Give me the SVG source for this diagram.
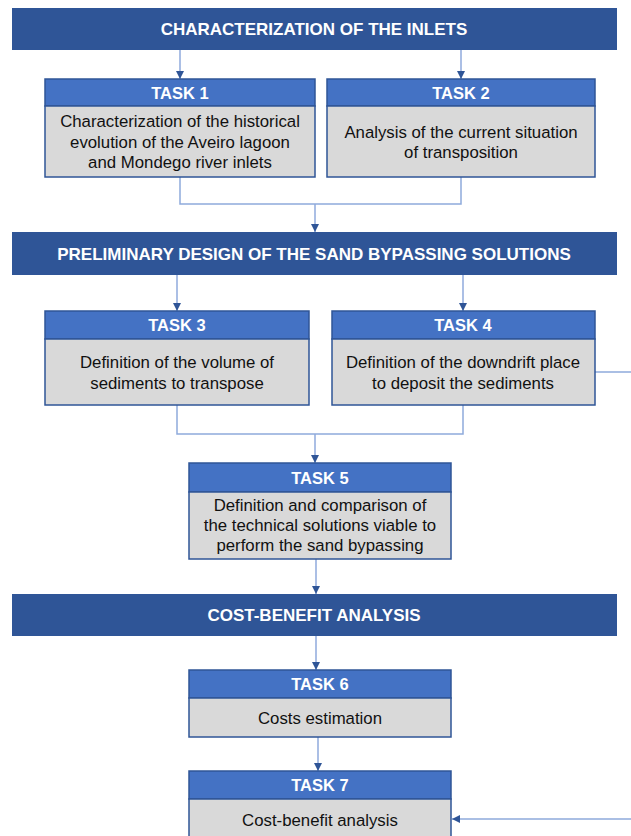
<svg xmlns="http://www.w3.org/2000/svg" width="631" height="836" viewBox="0 0 631 836">
<defs>
<style>
.band{fill:#2F5597;}
.band-t{font-family:"Liberation Sans",Arial,sans-serif;font-weight:bold;font-size:17px;fill:#fff;text-anchor:middle;}
.th{fill:#4472C4;stroke:#2F5597;stroke-width:1.5;}
.tb{fill:#D9D9D9;stroke:#2F5597;stroke-width:1.5;}
.th-t{font-family:"Liberation Sans",Arial,sans-serif;font-weight:bold;font-size:16.5px;fill:#fff;text-anchor:middle;}
.tb-t{font-family:"Liberation Sans",Arial,sans-serif;font-size:16.8px;fill:#111;text-anchor:middle;}
.conn{fill:none;stroke:#8FAADC;stroke-width:1.5;}
</style>
<marker id="arr" viewBox="0 0 10 10" refX="10" refY="5" markerWidth="8" markerHeight="8" markerUnits="userSpaceOnUse" orient="auto">
<path d="M0,0 L10,5 L0,10 z" fill="#2F5597"/>
</marker>
</defs>
<rect width="631" height="836" fill="#fff"/>

<g id="connectors">
<path class="conn" d="M180,50 V79" marker-end="url(#arr)"/>
<path class="conn" d="M461,50 V79" marker-end="url(#arr)"/>
<path class="conn" d="M180,177 V204 H461 V177"/>
<path class="conn" d="M315,204 V232" marker-end="url(#arr)"/>
<path class="conn" d="M177,275 V311" marker-end="url(#arr)"/>
<path class="conn" d="M463,275 V311" marker-end="url(#arr)"/>
<path class="conn" d="M177,405 V434 H463 V405"/>
<path class="conn" d="M315,434 V463" marker-end="url(#arr)"/>
<path class="conn" d="M316,559 V594" marker-end="url(#arr)"/>
<path class="conn" d="M316,636 V670" marker-end="url(#arr)"/>
<path class="conn" d="M318,737 V771" marker-end="url(#arr)"/>
<path class="conn" d="M595,372 H634 V819 H452" marker-end="url(#arr)"/>
</g>

<g id="band1">
<rect class="band" x="12" y="8" width="605" height="42"/>
<text class="band-t" x="314" y="35">CHARACTERIZATION OF THE INLETS</text>
</g>

<g id="task1">
<rect class="th" x="45" y="79" width="270" height="27"/>
<rect class="tb" x="45" y="106" width="270" height="71"/>
<text class="th-t" x="180" y="98.5">TASK 1</text>
<text class="tb-t" x="180" y="127">Characterization of the historical</text>
<text class="tb-t" x="180" y="148">evolution of the Aveiro lagoon</text>
<text class="tb-t" x="180" y="168">and Mondego river inlets</text>
</g>

<g id="task2">
<rect class="th" x="327" y="79" width="268" height="27"/>
<rect class="tb" x="327" y="106" width="268" height="71"/>
<text class="th-t" x="461" y="98.5">TASK 2</text>
<text class="tb-t" x="461" y="138">Analysis of the current situation</text>
<text class="tb-t" x="461" y="158">of transposition</text>
</g>

<g id="band2">
<rect class="band" x="12" y="232" width="605" height="43"/>
<text class="band-t" x="314" y="260">PRELIMINARY DESIGN OF THE SAND BYPASSING SOLUTIONS</text>
</g>

<g id="task3">
<rect class="th" x="45" y="311" width="264" height="28"/>
<rect class="tb" x="45" y="339" width="264" height="66"/>
<text class="th-t" x="177" y="331">TASK 3</text>
<text class="tb-t" x="177" y="368">Definition of the volume of</text>
<text class="tb-t" x="177" y="389">sediments to transpose</text>
</g>

<g id="task4">
<rect class="th" x="332" y="311" width="263" height="28"/>
<rect class="tb" x="332" y="339" width="263" height="66"/>
<text class="th-t" x="463" y="331">TASK 4</text>
<text class="tb-t" x="463" y="368">Definition of the downdrift place</text>
<text class="tb-t" x="463" y="389">to deposit the sediments</text>
</g>

<g id="task5">
<rect class="th" x="189" y="463" width="262" height="29"/>
<rect class="tb" x="189" y="492" width="262" height="67"/>
<text class="th-t" x="320" y="484">TASK 5</text>
<text class="tb-t" x="320" y="511">Definition and comparison of</text>
<text class="tb-t" x="320" y="531">the technical solutions viable to</text>
<text class="tb-t" x="320" y="551">perform the sand bypassing</text>
</g>

<g id="band3">
<rect class="band" x="12" y="594" width="605" height="42"/>
<text class="band-t" x="314" y="621">COST-BENEFIT ANALYSIS</text>
</g>

<g id="task6">
<rect class="th" x="189" y="670" width="262" height="28"/>
<rect class="tb" x="189" y="698" width="262" height="39"/>
<text class="th-t" x="320" y="690">TASK 6</text>
<text class="tb-t" x="320" y="724">Costs estimation</text>
</g>

<g id="task7">
<rect class="th" x="189" y="771" width="262" height="28"/>
<rect class="tb" x="189" y="799" width="262" height="45"/>
<text class="th-t" x="320" y="791">TASK 7</text>
<text class="tb-t" x="320" y="826">Cost-benefit analysis</text>
</g>
</svg>
